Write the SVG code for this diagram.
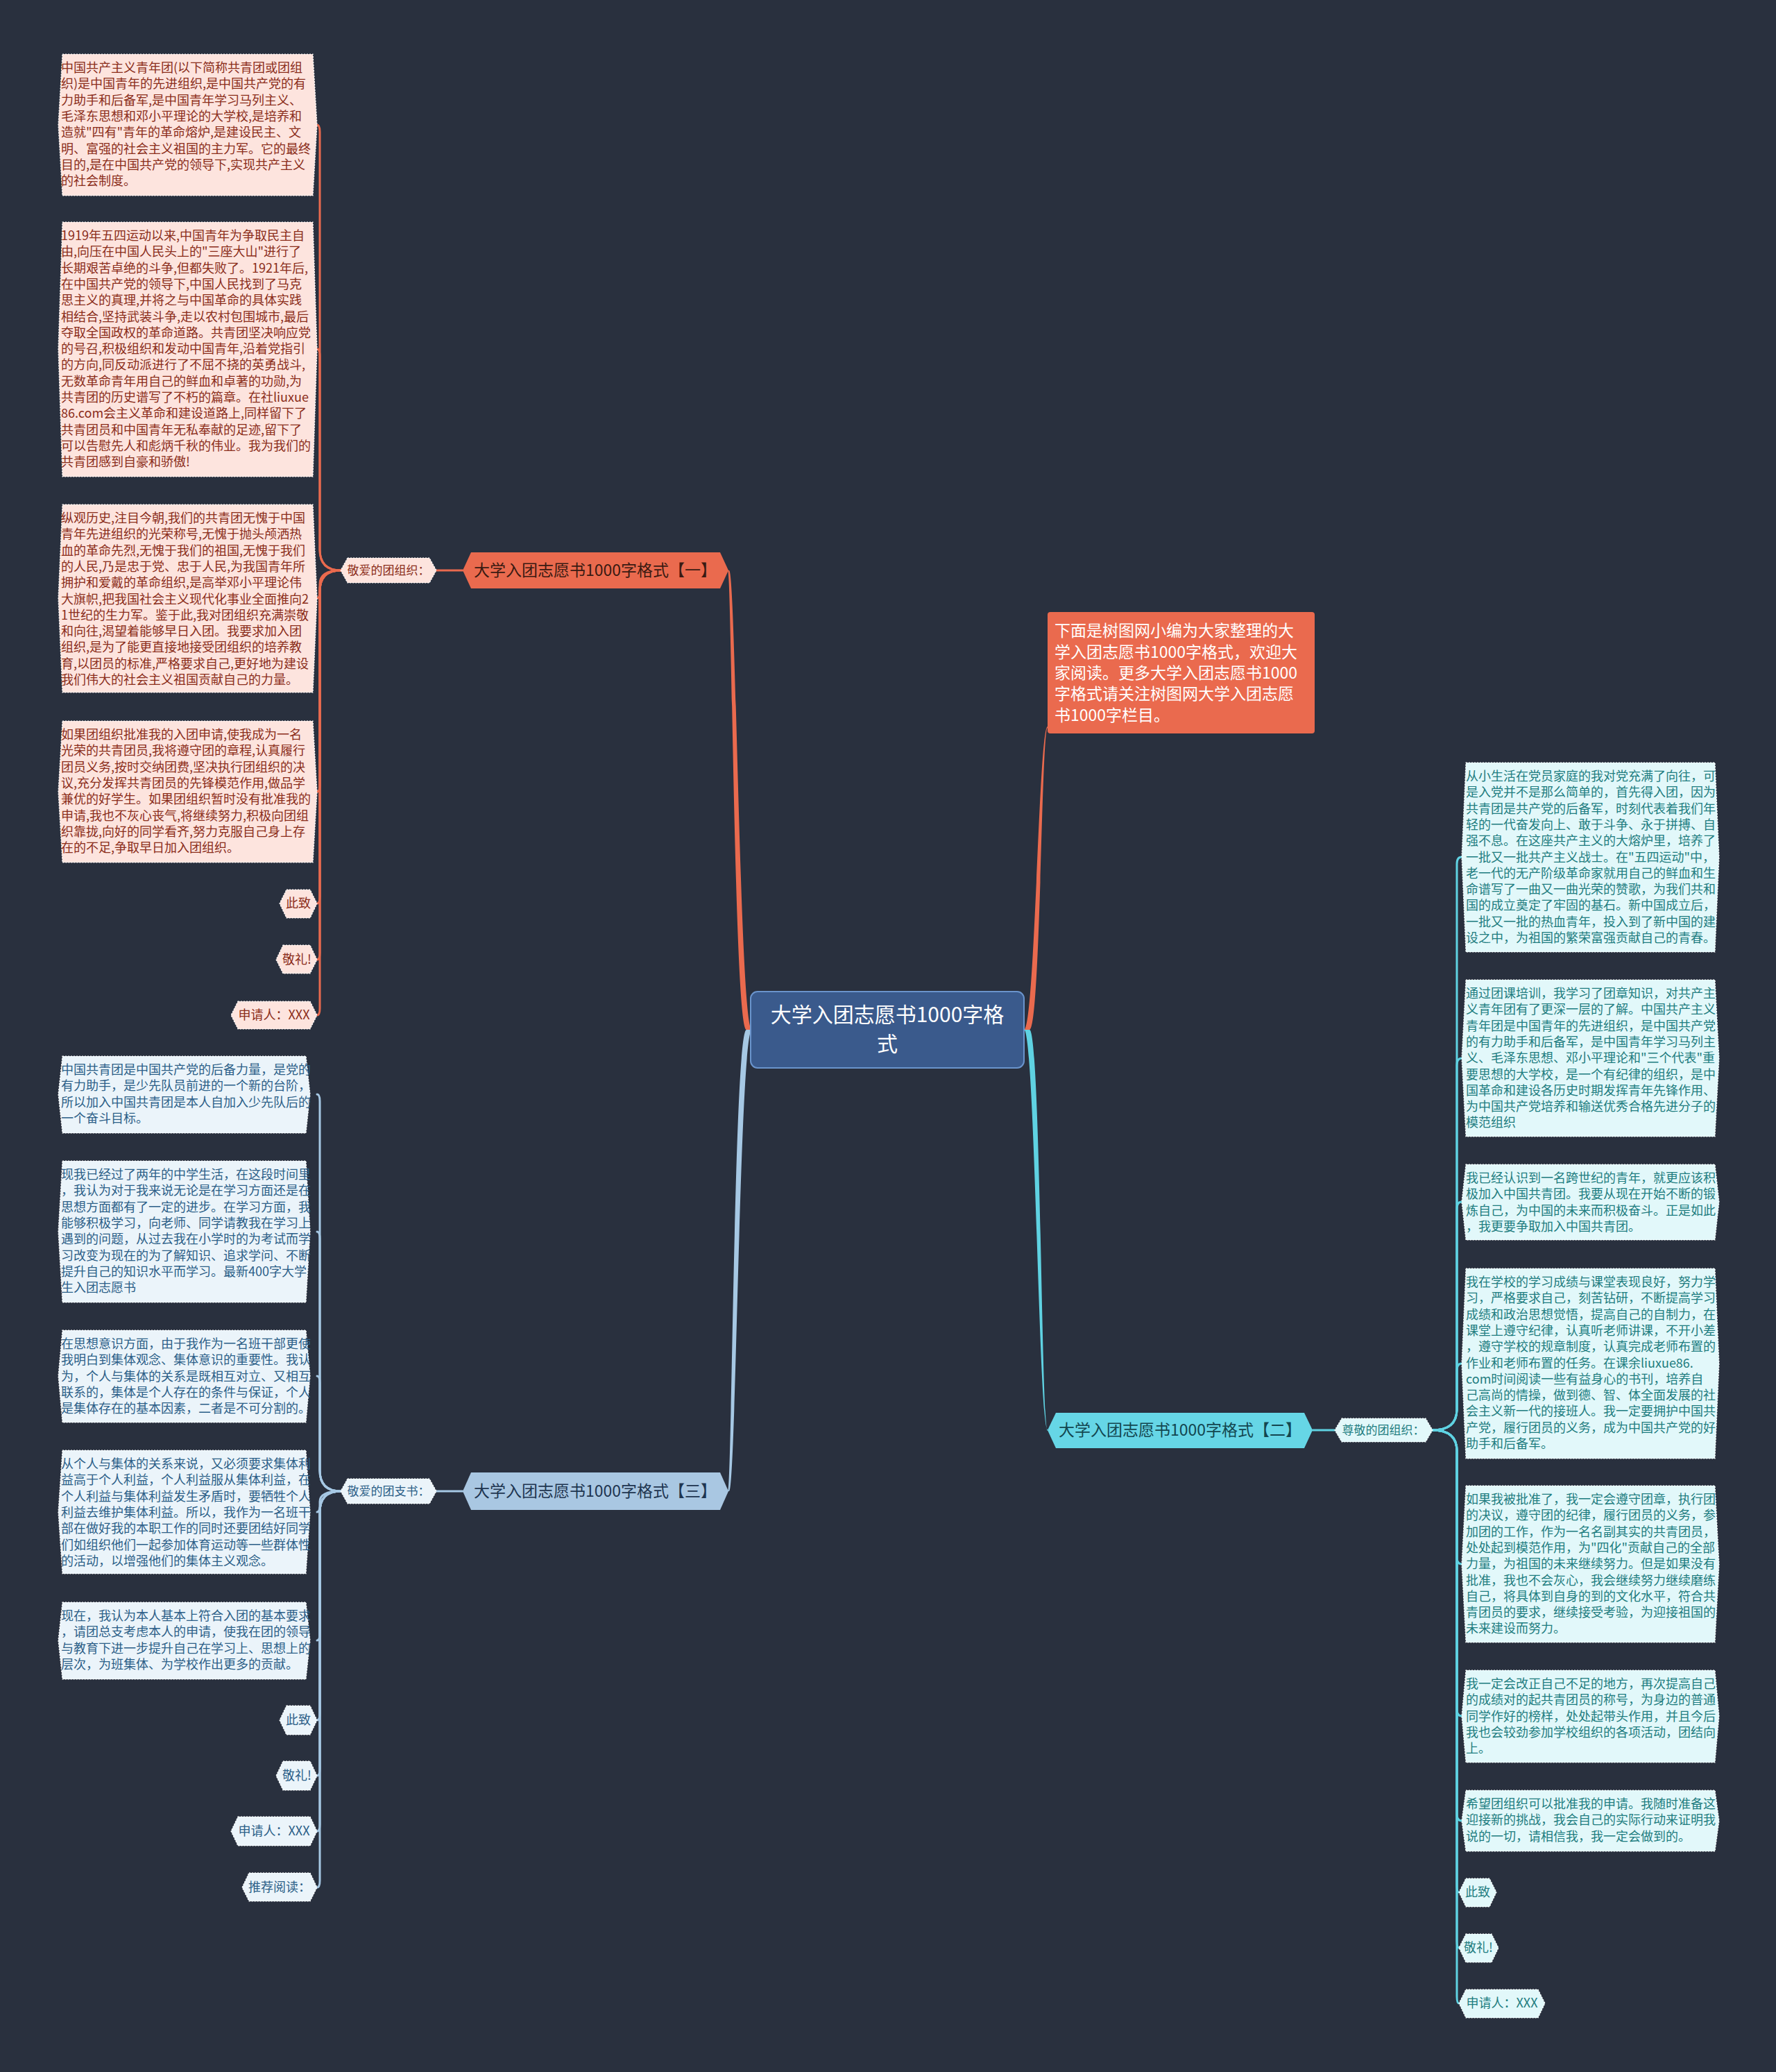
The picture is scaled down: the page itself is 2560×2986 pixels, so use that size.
<svg xmlns="http://www.w3.org/2000/svg" width="2560" height="2986" viewBox="0 0 2560 2986">
<style>
text{font-family:"Microsoft YaHei","Noto Sans CJK SC","Noto Sans",sans-serif;}
.lf{font-size:18px;}
.pk{fill:#fde4de;stroke:#ffffff;stroke-width:1.2;stroke-dasharray:2 2;}
.bl{fill:#ebf4fa;stroke:#ffffff;stroke-width:1.2;stroke-dasharray:2 2;}
.cy{fill:#e2f8fa;stroke:#ffffff;stroke-width:1.2;stroke-dasharray:2 2;}
.tpk{fill:#8b2d1a;}
.tbl{fill:#2c5f88;}
.tcy{fill:#1e7d80;}
.co{fill:none;stroke:#ea6a4e;stroke-width:3;stroke-linecap:round;}
.cb{fill:none;stroke:#a6c8e4;stroke-width:3;stroke-linecap:round;}
.cc{fill:none;stroke:#5fd2e2;stroke-width:3;stroke-linecap:round;}
.sm{font-size:18px;text-anchor:middle;}
.sub{font-size:17px;text-anchor:middle;}
</style>
<rect x="0" y="0" width="2560" height="2986" fill="#29303e"/>

<g id="connectors">
  <path fill="#ea6a4e" d="M1076,1484 C1058,1484 1055,822 1049,822 L1051,822 C1061,822 1066,1484 1084,1484 Z"/>
  <path fill="#a6c8e4" d="M1076,1484 C1058,1484 1055,2149 1049,2149 L1051,2149 C1061,2149 1066,1484 1084,1484 Z"/>
  <path fill="#ea6a4e" d="M1476,1484 C1492,1484 1497,1048 1510,1047 L1510,1049 C1501,1049 1500,1484 1484,1484 Z"/>
  <path fill="#5fd2e2" d="M1476,1484 C1492,1484 1497,2061 1510,2060 L1510,2062 C1501,2062 1500,1484 1484,1484 Z"/>
  <path class="co" d="M667,822 L629,822"/>
  <path class="cb" d="M667,2149 L629,2149"/>
  <path class="cc" d="M1892,2061 L1924,2061"/>
  <!-- left top -->
  <path class="co" d="M491,822 Q461,822 461,792 L461,190 Q461,180 457,180"/>
  <path class="co" d="M491,822 Q461,822 461,792 L461,513 Q461,503 457,503"/>
  <path class="co" d="M491,822 Q461,822 461,842 L461,852 Q461,862 457,862"/>
  <path class="co" d="M491,822 Q461,822 461,852 L461,1131 Q461,1141 457,1141"/>
  <path class="co" d="M491,822 Q461,822 461,852 L461,1292 Q461,1302 457,1302"/>
  <path class="co" d="M491,822 Q461,822 461,852 L461,1373 Q461,1383 457,1383"/>
  <path class="co" d="M491,822 Q461,822 461,852 L461,1453 Q461,1463 457,1463"/>
  <!-- left bottom -->
  <path class="cb" d="M491,2149 Q461,2149 461,2119 L461,1587 Q461,1577 457,1577"/>
  <path class="cb" d="M491,2149 Q461,2149 461,2119 L461,1785 Q461,1775 457,1775"/>
  <path class="cb" d="M491,2149 Q461,2149 461,2119 L461,1993 Q461,1983 457,1983"/>
  <path class="cb" d="M491,2149 Q461,2149 461,2164 L461,2169 Q461,2179 457,2179"/>
  <path class="cb" d="M491,2149 Q461,2149 461,2179 L461,2354 Q461,2364 457,2364"/>
  <path class="cb" d="M491,2149 Q461,2149 461,2179 L461,2469 Q461,2479 457,2479"/>
  <path class="cb" d="M491,2149 Q461,2149 461,2179 L461,2549 Q461,2559 457,2559"/>
  <path class="cb" d="M491,2149 Q461,2149 461,2179 L461,2629 Q461,2639 457,2639"/>
  <path class="cb" d="M491,2149 Q461,2149 461,2179 L461,2710 Q461,2720 457,2720"/>
  <!-- right -->
  <path class="cc" d="M2065,2061 Q2100,2061 2100,2031 L2100,1245 Q2100,1235 2107,1235"/>
  <path class="cc" d="M2065,2061 Q2100,2061 2100,2031 L2100,1535 Q2100,1525 2107,1525"/>
  <path class="cc" d="M2065,2061 Q2100,2061 2100,2031 L2100,1742 Q2100,1732 2107,1732"/>
  <path class="cc" d="M2065,2061 Q2100,2061 2100,2031 L2100,1975 Q2100,1965 2107,1965"/>
  <path class="cc" d="M2065,2061 Q2100,2061 2100,2091 L2100,2244 Q2100,2254 2107,2254"/>
  <path class="cc" d="M2065,2061 Q2100,2061 2100,2091 L2100,2463 Q2100,2473 2107,2473"/>
  <path class="cc" d="M2065,2061 Q2100,2061 2100,2091 L2100,2614 Q2100,2624 2107,2624"/>
  <path class="cc" d="M2065,2061 Q2100,2061 2100,2091 L2100,2717 Q2100,2727 2103,2727"/>
  <path class="cc" d="M2065,2061 Q2100,2061 2100,2091 L2100,2797 Q2100,2807 2103,2807"/>
  <path class="cc" d="M2065,2061 Q2100,2061 2100,2091 L2100,2877 Q2100,2887 2103,2887"/>
</g>

<g id="center">
  <rect x="1082" y="1429" width="394" height="110" rx="10" fill="#3a5a8c" stroke="#6a94cc" stroke-width="2"/>
  <text x="1279" y="1473" font-size="30" fill="#ffffff" text-anchor="middle">大学入团志愿书1000字格</text>
  <text x="1279" y="1515" font-size="30" fill="#ffffff" text-anchor="middle">式</text>
</g>

<g id="intro">
  <rect x="1510" y="882" width="385" height="175" rx="4" fill="#ea6a4e"/>
  <text font-size="23" fill="#ffffff">
    <tspan x="1520" y="917">下面是树图网小编为大家整理的大</tspan>
    <tspan x="1520" y="948">学入团志愿书1000字格式，欢迎大</tspan>
    <tspan x="1520" y="978">家阅读。更多大学入团志愿书1000</tspan>
    <tspan x="1520" y="1008">字格式请关注树图网大学入团志愿</tspan>
    <tspan x="1520" y="1039">书1000字栏目。</tspan>
  </text>
</g>

<g id="branch1">
  <polygon points="679,796 1038,796 1050,822 1038,848 679,848 667,822" fill="#ea6a4e"/>
  <text x="858" y="830" font-size="23" fill="#3a1a12" text-anchor="middle">大学入团志愿书1000字格式【一】</text>
</g>
<g id="sub1">
  <polygon points="501,804 619,804 629,822 619,840 501,840 491,822" class="pk"/>
  <text x="560" y="828" class="sub tpk">敬爱的团组织：</text>
</g>

<g id="branch3">
  <polygon points="679,2122 1038,2122 1050,2149 1038,2176 679,2176 667,2149" fill="#a9c7e2"/>
  <text x="858" y="2157" font-size="23" fill="#1e3550" text-anchor="middle">大学入团志愿书1000字格式【三】</text>
</g>
<g id="sub3">
  <polygon points="501,2131 619,2131 629,2149 619,2167 501,2167 491,2149" class="bl"/>
  <text x="560" y="2155" class="sub tbl">敬爱的团支书：</text>
</g>

<g id="branch2">
  <polygon points="1522,2036 1880,2036 1892,2061 1880,2087 1522,2087 1510,2061" fill="#66d6e6"/>
  <text x="1701" y="2069" font-size="23" fill="#134650" text-anchor="middle">大学入团志愿书1000字格式【二】</text>
</g>
<g id="sub2">
  <polygon points="1934,2044 2055,2044 2065,2061 2055,2078 1934,2078 1924,2061" class="cy"/>
  <text x="1994" y="2067" class="sub tcy">尊敬的团组织：</text>
</g>

<g id="L1">
  <polygon points="90,78 451,78 457,180 451,282 90,282 84,180" class="pk"/>
  <text class="lf tpk">
    <tspan x="88" y="104">中国共产主义青年团(以下简称共青团或团组</tspan>
    <tspan x="88" y="127.3">织)是中国青年的先进组织,是中国共产党的有</tspan>
    <tspan x="88" y="150.6">力助手和后备军,是中国青年学习马列主义、</tspan>
    <tspan x="88" y="173.9">毛泽东思想和邓小平理论的大学校,是培养和</tspan>
    <tspan x="88" y="197.2">造就"四有"青年的革命熔炉,是建设民主、文</tspan>
    <tspan x="88" y="220.5">明、富强的社会主义祖国的主力军。它的最终</tspan>
    <tspan x="88" y="243.8">目的,是在中国共产党的领导下,实现共产主义</tspan>
    <tspan x="88" y="267.1">的社会制度。</tspan>
  </text>
</g>

<g id="L2">
  <polygon points="90,320 451,320 457,503 451,687 90,687 84,503" class="pk"/>
  <text class="lf tpk">
    <tspan x="88" y="346">1919年五四运动以来,中国青年为争取民主自</tspan>
    <tspan x="88" y="369.3">由,向压在中国人民头上的"三座大山"进行了</tspan>
    <tspan x="88" y="392.6">长期艰苦卓绝的斗争,但都失败了。1921年后,</tspan>
    <tspan x="88" y="415.9">在中国共产党的领导下,中国人民找到了马克</tspan>
    <tspan x="88" y="439.2">思主义的真理,并将之与中国革命的具体实践</tspan>
    <tspan x="88" y="462.5">相结合,坚持武装斗争,走以农村包围城市,最后</tspan>
    <tspan x="88" y="485.8">夺取全国政权的革命道路。共青团坚决响应党</tspan>
    <tspan x="88" y="509.1">的号召,积极组织和发动中国青年,沿着党指引</tspan>
    <tspan x="88" y="532.4">的方向,同反动派进行了不屈不挠的英勇战斗,</tspan>
    <tspan x="88" y="555.7">无数革命青年用自己的鲜血和卓著的功勋,为</tspan>
    <tspan x="88" y="579">共青团的历史谱写了不朽的篇章。在社liuxue</tspan>
    <tspan x="88" y="602.3">86.com会主义革命和建设道路上,同样留下了</tspan>
    <tspan x="88" y="625.6">共青团员和中国青年无私奉献的足迹,留下了</tspan>
    <tspan x="88" y="648.9">可以告慰先人和彪炳千秋的伟业。我为我们的</tspan>
    <tspan x="88" y="672.2">共青团感到自豪和骄傲!</tspan>
  </text>
</g>

<g id="L3">
  <polygon points="90,727 451,727 457,862 451,998 90,998 84,862" class="pk"/>
  <text class="lf tpk">
    <tspan x="88" y="753">纵观历史,注目今朝,我们的共青团无愧于中国</tspan>
    <tspan x="88" y="776.3">青年先进组织的光荣称号,无愧于抛头颅洒热</tspan>
    <tspan x="88" y="799.6">血的革命先烈,无愧于我们的祖国,无愧于我们</tspan>
    <tspan x="88" y="822.9">的人民,乃是忠于党、忠于人民,为我国青年所</tspan>
    <tspan x="88" y="846.2">拥护和爱戴的革命组织,是高举邓小平理论伟</tspan>
    <tspan x="88" y="869.5">大旗帜,把我国社会主义现代化事业全面推向2</tspan>
    <tspan x="88" y="892.8">1世纪的生力军。鉴于此,我对团组织充满崇敬</tspan>
    <tspan x="88" y="916.1">和向往,渴望着能够早日入团。我要求加入团</tspan>
    <tspan x="88" y="939.4">组织,是为了能更直接地接受团组织的培养教</tspan>
    <tspan x="88" y="962.7">育,以团员的标准,严格要求自己,更好地为建设</tspan>
    <tspan x="88" y="986">我们伟大的社会主义祖国贡献自己的力量。</tspan>
  </text>
</g>

<g id="L4">
  <polygon points="90,1039 451,1039 457,1141 451,1243 90,1243 84,1141" class="pk"/>
  <text class="lf tpk">
    <tspan x="88" y="1065">如果团组织批准我的入团申请,使我成为一名</tspan>
    <tspan x="88" y="1088.3">光荣的共青团员,我将遵守团的章程,认真履行</tspan>
    <tspan x="88" y="1111.6">团员义务,按时交纳团费,坚决执行团组织的决</tspan>
    <tspan x="88" y="1134.9">议,充分发挥共青团员的先锋模范作用,做品学</tspan>
    <tspan x="88" y="1158.2">兼优的好学生。如果团组织暂时没有批准我的</tspan>
    <tspan x="88" y="1181.5">申请,我也不灰心丧气,将继续努力,积极向团组</tspan>
    <tspan x="88" y="1204.8">织靠拢,向好的同学看齐,努力克服自己身上存</tspan>
    <tspan x="88" y="1228.1">在的不足,争取早日加入团组织。</tspan>
  </text>
</g>

<g id="L5">
  <polygon points="413,1282 447,1282 457,1302 447,1323 413,1323 403,1302" class="pk"/>
  <text x="430" y="1308" class="sm tpk">此致</text>
</g>
<g id="L6">
  <polygon points="408,1362 447,1362 457,1383 447,1403 408,1403 398,1383" class="pk"/>
  <text x="428" y="1389" class="sm tpk">敬礼!</text>
</g>
<g id="L7">
  <polygon points="343,1443 447,1443 457,1463 447,1483 343,1483 333,1463" class="pk"/>
  <text x="395" y="1469" class="sm tpk">申请人：XXX</text>
</g>

<g id="B1">
  <polygon points="90,1522 441,1522 447,1577 441,1633 90,1633 84,1577" class="bl"/>
  <text class="lf tbl">
    <tspan x="88" y="1548">中国共青团是中国共产党的后备力量，是党的</tspan>
    <tspan x="88" y="1571.3">有力助手，是少先队员前进的一个新的台阶，</tspan>
    <tspan x="88" y="1594.6">所以加入中国共青团是本人自加入少先队后的</tspan>
    <tspan x="88" y="1617.9">一个奋斗目标。</tspan>
  </text>
</g>
<g id="B2">
  <polygon points="90,1673 441,1673 447,1775 441,1877 90,1877 84,1775" class="bl"/>
  <text class="lf tbl">
    <tspan x="88" y="1699">现我已经过了两年的中学生活，在这段时间里</tspan>
    <tspan x="88" y="1722.3">，我认为对于我来说无论是在学习方面还是在</tspan>
    <tspan x="88" y="1745.6">思想方面都有了一定的进步。在学习方面，我</tspan>
    <tspan x="88" y="1768.9">能够积极学习，向老师、同学请教我在学习上</tspan>
    <tspan x="88" y="1792.2">遇到的问题，从过去我在小学时的为考试而学</tspan>
    <tspan x="88" y="1815.5">习改变为现在的为了解知识、追求学问、不断</tspan>
    <tspan x="88" y="1838.8">提升自己的知识水平而学习。最新400字大学</tspan>
    <tspan x="88" y="1862.1">生入团志愿书</tspan>
  </text>
</g>
<g id="B3">
  <polygon points="90,1917 441,1917 447,1983 441,2050 90,2050 84,1983" class="bl"/>
  <text class="lf tbl">
    <tspan x="88" y="1943">在思想意识方面，由于我作为一名班干部更使</tspan>
    <tspan x="88" y="1966.3">我明白到集体观念、集体意识的重要性。我认</tspan>
    <tspan x="88" y="1989.6">为，个人与集体的关系是既相互对立、又相互</tspan>
    <tspan x="88" y="2012.9">联系的，集体是个人存在的条件与保证，个人</tspan>
    <tspan x="88" y="2036.2">是集体存在的基本因素，二者是不可分割的。</tspan>
  </text>
</g>
<g id="B4">
  <polygon points="90,2090 441,2090 447,2179 441,2268 90,2268 84,2179" class="bl"/>
  <text class="lf tbl">
    <tspan x="88" y="2116">从个人与集体的关系来说，又必须要求集体利</tspan>
    <tspan x="88" y="2139.3">益高于个人利益，个人利益服从集体利益，在</tspan>
    <tspan x="88" y="2162.6">个人利益与集体利益发生矛盾时，要牺牲个人</tspan>
    <tspan x="88" y="2185.9">利益去维护集体利益。所以，我作为一名班干</tspan>
    <tspan x="88" y="2209.2">部在做好我的本职工作的同时还要团结好同学</tspan>
    <tspan x="88" y="2232.5">们如组织他们一起参加体育运动等一些群体性</tspan>
    <tspan x="88" y="2255.8">的活动，以增强他们的集体主义观念。</tspan>
  </text>
</g>
<g id="B5">
  <polygon points="90,2309 441,2309 447,2364 441,2420 90,2420 84,2364" class="bl"/>
  <text class="lf tbl">
    <tspan x="88" y="2335">现在，我认为本人基本上符合入团的基本要求</tspan>
    <tspan x="88" y="2358.3">，请团总支考虑本人的申请，使我在团的领导</tspan>
    <tspan x="88" y="2381.6">与教育下进一步提升自己在学习上、思想上的</tspan>
    <tspan x="88" y="2404.9">层次，为班集体、为学校作出更多的贡献。</tspan>
  </text>
</g>
<g id="B6">
  <polygon points="413,2458 447,2458 457,2479 447,2500 413,2500 403,2479" class="bl"/>
  <text x="430" y="2485" class="sm tbl">此致</text>
</g>
<g id="B7">
  <polygon points="408,2538 447,2538 457,2559 447,2580 408,2580 398,2559" class="bl"/>
  <text x="428" y="2565" class="sm tbl">敬礼!</text>
</g>
<g id="B8">
  <polygon points="343,2618 447,2618 457,2639 447,2660 343,2660 333,2639" class="bl"/>
  <text x="395" y="2645" class="sm tbl">申请人：XXX</text>
</g>
<g id="B9">
  <polygon points="359,2699 447,2699 457,2720 447,2740 359,2740 349,2720" class="bl"/>
  <text x="403" y="2726" class="sm tbl">推荐阅读：</text>
</g>

<g id="R1">
  <polygon points="2113,1099 2472,1099 2478,1235 2472,1372 2113,1372 2107,1235" class="cy"/>
  <text class="lf tcy">
    <tspan x="2113" y="1125">从小生活在党员家庭的我对党充满了向往，可</tspan>
    <tspan x="2113" y="1148.3">是入党并不是那么简单的，首先得入团，因为</tspan>
    <tspan x="2113" y="1171.6">共青团是共产党的后备军，时刻代表着我们年</tspan>
    <tspan x="2113" y="1194.9">轻的一代奋发向上、敢于斗争、永于拼搏、自</tspan>
    <tspan x="2113" y="1218.2">强不息。在这座共产主义的大熔炉里，培养了</tspan>
    <tspan x="2113" y="1241.5">一批又一批共产主义战士。在"五四运动"中，</tspan>
    <tspan x="2113" y="1264.8">老一代的无产阶级革命家就用自己的鲜血和生</tspan>
    <tspan x="2113" y="1288.1">命谱写了一曲又一曲光荣的赞歌，为我们共和</tspan>
    <tspan x="2113" y="1311.4">国的成立奠定了牢固的基石。新中国成立后，</tspan>
    <tspan x="2113" y="1334.7">一批又一批的热血青年，投入到了新中国的建</tspan>
    <tspan x="2113" y="1358">设之中，为祖国的繁荣富强贡献自己的青春。</tspan>
  </text>
</g>
<g id="R2">
  <polygon points="2113,1412 2472,1412 2478,1525 2472,1638 2113,1638 2107,1525" class="cy"/>
  <text class="lf tcy">
    <tspan x="2113" y="1438">通过团课培训，我学习了团章知识，对共产主</tspan>
    <tspan x="2113" y="1461.3">义青年团有了更深一层的了解。中国共产主义</tspan>
    <tspan x="2113" y="1484.6">青年团是中国青年的先进组织，是中国共产党</tspan>
    <tspan x="2113" y="1507.9">的有力助手和后备军，是中国青年学习马列主</tspan>
    <tspan x="2113" y="1531.2">义、毛泽东思想、邓小平理论和"三个代表"重</tspan>
    <tspan x="2113" y="1554.5">要思想的大学校，是一个有纪律的组织，是中</tspan>
    <tspan x="2113" y="1577.8">国革命和建设各历史时期发挥青年先锋作用、</tspan>
    <tspan x="2113" y="1601.1">为中国共产党培养和输送优秀合格先进分子的</tspan>
    <tspan x="2113" y="1624.4">模范组织</tspan>
  </text>
</g>
<g id="R3">
  <polygon points="2113,1678 2472,1678 2478,1732 2472,1787 2113,1787 2107,1732" class="cy"/>
  <text class="lf tcy">
    <tspan x="2113" y="1704">我已经认识到一名跨世纪的青年，就更应该积</tspan>
    <tspan x="2113" y="1727.3">极加入中国共青团。我要从现在开始不断的锻</tspan>
    <tspan x="2113" y="1750.6">炼自己，为中国的未来而积极奋斗。正是如此</tspan>
    <tspan x="2113" y="1773.9">，我更要争取加入中国共青团。</tspan>
  </text>
</g>
<g id="R4">
  <polygon points="2113,1828 2472,1828 2478,1965 2472,2102 2113,2102 2107,1965" class="cy"/>
  <text class="lf tcy">
    <tspan x="2113" y="1854">我在学校的学习成绩与课堂表现良好，努力学</tspan>
    <tspan x="2113" y="1877.3">习，严格要求自己，刻苦钻研，不断提高学习</tspan>
    <tspan x="2113" y="1900.6">成绩和政治思想觉悟，提高自己的自制力，在</tspan>
    <tspan x="2113" y="1923.9">课堂上遵守纪律，认真听老师讲课，不开小差</tspan>
    <tspan x="2113" y="1947.2">，遵守学校的规章制度，认真完成老师布置的</tspan>
    <tspan x="2113" y="1970.5">作业和老师布置的任务。在课余liuxue86.</tspan>
    <tspan x="2113" y="1993.8">com时间阅读一些有益身心的书刊，培养自</tspan>
    <tspan x="2113" y="2017.1">己高尚的情操，做到德、智、体全面发展的社</tspan>
    <tspan x="2113" y="2040.4">会主义新一代的接班人。我一定要拥护中国共</tspan>
    <tspan x="2113" y="2063.7">产党，履行团员的义务，成为中国共产党的好</tspan>
    <tspan x="2113" y="2087">助手和后备军。</tspan>
  </text>
</g>
<g id="R5">
  <polygon points="2113,2141 2472,2141 2478,2254 2472,2367 2113,2367 2107,2254" class="cy"/>
  <text class="lf tcy">
    <tspan x="2113" y="2167">如果我被批准了，我一定会遵守团章，执行团</tspan>
    <tspan x="2113" y="2190.3">的决议，遵守团的纪律，履行团员的义务，参</tspan>
    <tspan x="2113" y="2213.6">加团的工作，作为一名名副其实的共青团员，</tspan>
    <tspan x="2113" y="2236.9">处处起到模范作用，为"四化"贡献自己的全部</tspan>
    <tspan x="2113" y="2260.2">力量，为祖国的未来继续努力。但是如果没有</tspan>
    <tspan x="2113" y="2283.5">批准，我也不会灰心，我会继续努力继续磨练</tspan>
    <tspan x="2113" y="2306.8">自己，将具体到自身的到的文化水平，符合共</tspan>
    <tspan x="2113" y="2330.1">青团员的要求，继续接受考验，为迎接祖国的</tspan>
    <tspan x="2113" y="2353.4">未来建设而努力。</tspan>
  </text>
</g>
<g id="R6">
  <polygon points="2113,2407 2472,2407 2478,2473 2472,2540 2113,2540 2107,2473" class="cy"/>
  <text class="lf tcy">
    <tspan x="2113" y="2433">我一定会改正自己不足的地方，再次提高自己</tspan>
    <tspan x="2113" y="2456.3">的成绩对的起共青团员的称号，为身边的普通</tspan>
    <tspan x="2113" y="2479.6">同学作好的榜样，处处起带头作用，并且今后</tspan>
    <tspan x="2113" y="2502.9">我也会较劲参加学校组织的各项活动，团结向</tspan>
    <tspan x="2113" y="2526.2">上。</tspan>
  </text>
</g>
<g id="R7">
  <polygon points="2113,2580 2472,2580 2478,2624 2472,2668 2113,2668 2107,2624" class="cy"/>
  <text class="lf tcy">
    <tspan x="2113" y="2606">希望团组织可以批准我的申请。我随时准备这</tspan>
    <tspan x="2113" y="2629.3">迎接新的挑战，我会自己的实际行动来证明我</tspan>
    <tspan x="2113" y="2652.6">说的一切，请相信我，我一定会做到的。</tspan>
  </text>
</g>
<g id="R8">
  <polygon points="2113,2707 2147,2707 2157,2727 2147,2748 2113,2748 2103,2727" class="cy"/>
  <text x="2130" y="2733" class="sm tcy">此致</text>
</g>
<g id="R9">
  <polygon points="2113,2787 2150,2787 2160,2807 2150,2828 2113,2828 2103,2807" class="cy"/>
  <text x="2131" y="2813" class="sm tcy">敬礼!</text>
</g>
<g id="R10">
  <polygon points="2113,2867 2217,2867 2227,2887 2217,2908 2113,2908 2103,2887" class="cy"/>
  <text x="2165" y="2893" class="sm tcy">申请人：XXX</text>
</g>
</svg>
